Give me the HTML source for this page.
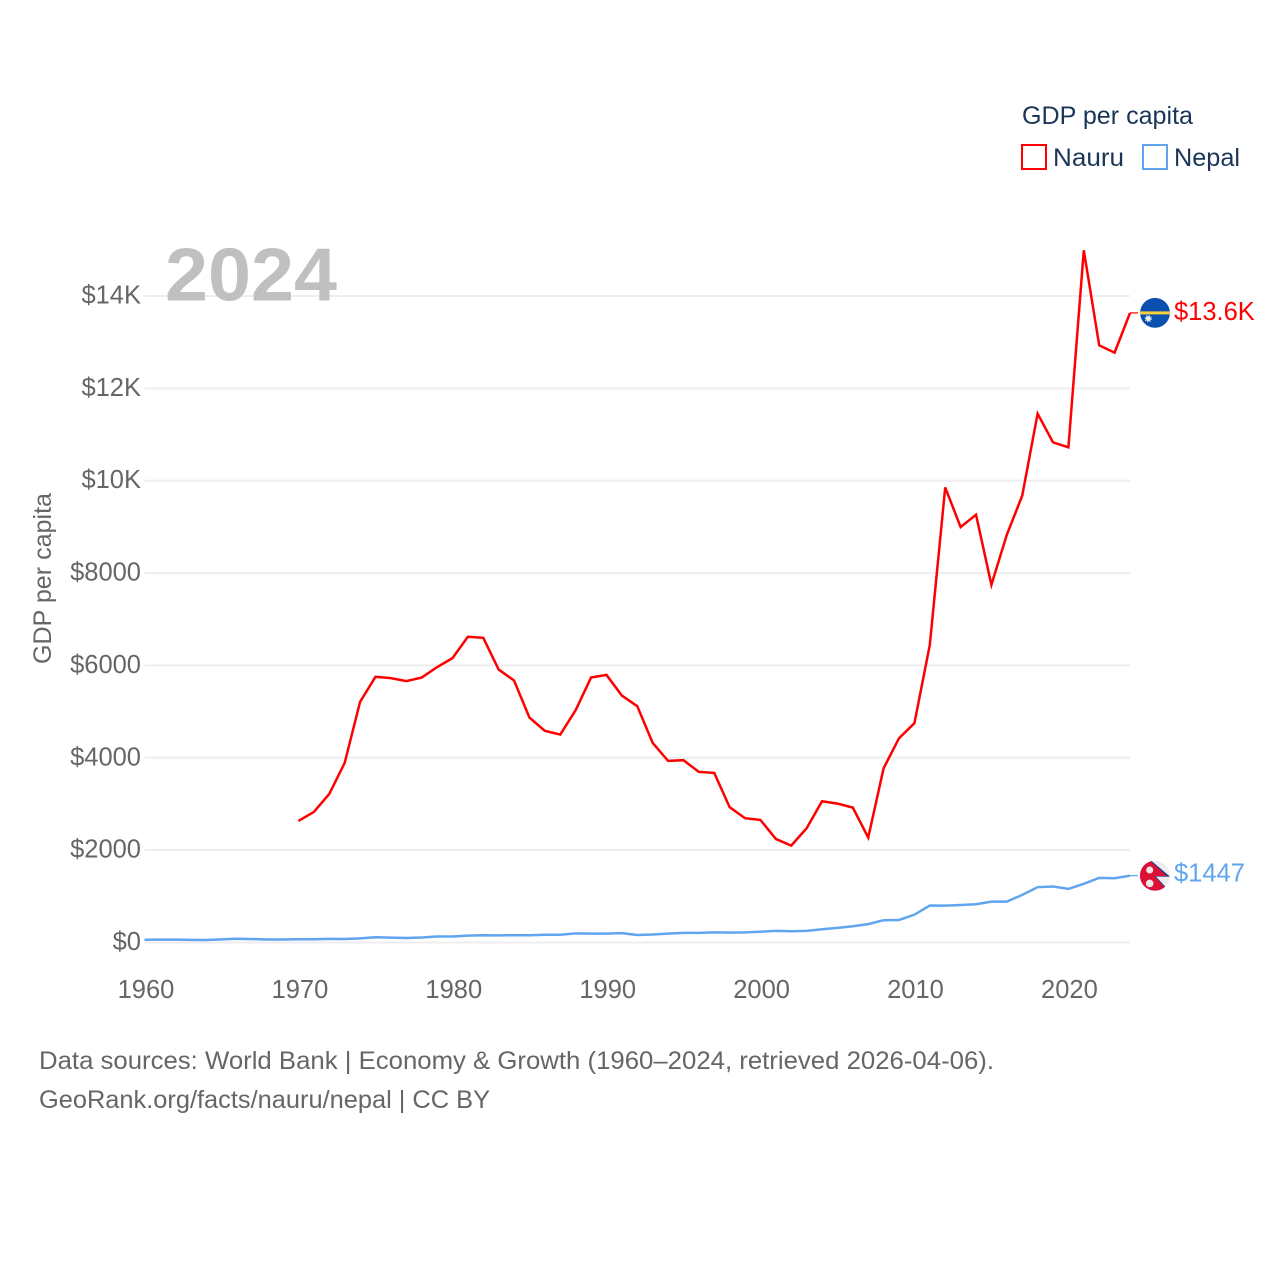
<!DOCTYPE html>
<html lang="en">
<head>
<meta charset="utf-8">
<title>GDP per capita: Nauru and Nepal</title>
<style>
html,body{margin:0;padding:0;background:#fff;width:1280px;height:1280px;overflow:hidden}
svg{display:block;font-family:"Liberation Sans",sans-serif}
</style>
</head>
<body>
<svg id="chart" width="1280" height="1280" viewBox="0 0 1280 1280" xmlns="http://www.w3.org/2000/svg">
  <defs>
    <clipPath id="flag-clip"><circle cx="0" cy="0" r="15"></circle></clipPath>
  </defs>
  <g id="grid"></g>
  <g id="y-ticks"></g>
  <g id="x-ticks"></g>
  <text transform="translate(51,578.5) rotate(-90)" text-anchor="middle" font-size="25" fill="#666" textLength="171" lengthAdjust="spacingAndGlyphs">GDP per capita</text>
  <text x="165" y="300.5" font-size="75" font-weight="700" fill="#c0c0c0" textLength="172" lengthAdjust="spacingAndGlyphs">2024</text>
  <g id="series"></g>
  <g id="flag-nauru" clip-path="url(#flag-clip)">
    <circle r="15" fill="#0b50ae"></circle>
    <rect x="-15" y="-1.5" width="30" height="3" fill="#fcd03c"></rect>
    <circle cx="-6.7" cy="5.7" r="2.6" fill="#e8eef8"></circle>
    <circle cx="-6.7" cy="5.7" r="3.2" fill="none" stroke="#e8eef8" stroke-width="1" stroke-dasharray="1 1.5"></circle>
  </g>
  <g id="flag-nepal" clip-path="url(#flag-clip)">
    <circle r="15" fill="#eeeeee"></circle>
    <polygon points="-5,-16 15,1 1,1 15,16 -16,16 -16,-16" fill="#0b3f9e"></polygon>
    <polygon points="-6,-16 12,0.3 0,0.6 13,15.5 -16,16 -16,-16" fill="#dc0f35"></polygon>
    <circle cx="-5.3" cy="-5.7" r="3.5" fill="#f0e6e6"></circle>
    <circle cx="-5.3" cy="7.7" r="3.8" fill="#f0e6e6"></circle>
  </g>
  <text id="label-nauru" x="1174" font-size="25.5" fill="#ff0000"></text>
  <text id="label-nepal" x="1174" font-size="25.5" fill="#60a5ee"></text>
  <g>
    <text x="1022" y="124" font-size="25" fill="#1a3557" textLength="171" lengthAdjust="spacingAndGlyphs">GDP per capita</text>
    <rect x="1022" y="145" width="24" height="24" fill="none" stroke="#ff0000" stroke-width="2"></rect>
    <text x="1053" y="166" font-size="25" fill="#1a3557" textLength="71" lengthAdjust="spacingAndGlyphs">Nauru</text>
    <rect x="1143" y="145" width="24" height="24" fill="none" stroke="#60a5ee" stroke-width="2"></rect>
    <text x="1174" y="166" font-size="25" fill="#1a3557" textLength="66" lengthAdjust="spacingAndGlyphs">Nepal</text>
  </g>
  <text x="39" y="1069" font-size="25" fill="#666" textLength="955" lengthAdjust="spacingAndGlyphs">Data sources: World Bank | Economy &amp; Growth (1960–2024, retrieved 2026-04-06).</text>
  <text x="39" y="1108" font-size="25" fill="#666" textLength="451" lengthAdjust="spacingAndGlyphs">GeoRank.org/facts/nauru/nepal | CC BY</text>
</svg>
<script>
const years = [1960,1961,1962,1963,1964,1965,1966,1967,1968,1969,1970,1971,1972,1973,1974,1975,1976,1977,1978,1979,1980,1981,1982,1983,1984,1985,1986,1987,1988,1989,1990,1991,1992,1993,1994,1995,1996,1997,1998,1999,2000,2001,2002,2003,2004,2005,2006,2007,2008,2009,2010,2011,2012,2013,2014,2015,2016,2017,2018,2019,2020,2021,2022,2023,2024];
const nauruValues = [null,null,null,null,null,null,null,null,null,null,2633,2828,3218,3890,5211,5753,5725,5660,5738,5963,6158,6620,6598,5911,5673,4871,4583,4503,5031,5738,5796,5348,5118,4323,3933,3948,3694,3673,2930,2691,2654,2243,2098,2474,3059,3008,2921,2271,3775,4424,4749,6446,9855,8996,9263,7746,8830,9675,11452,10830,10722,14990,12932,12774,13634];
const nepalValues = [60,62,63,57,55,68,80,74,65,64,70,70,79,75,90,114,105,97,108,130,130,150,158,153,158,158,168,168,198,193,193,203,163,173,193,208,208,218,213,218,233,253,243,253,288,318,353,398,483,488,603,800,798,813,828,886,884,1032,1198,1212,1161,1270,1400,1392,1447];
const yTickValues = [0,2000,4000,6000,8000,10000,12000,14000];
const yTickLabels = ["$0","$2000","$4000","$6000","$8000","$10K","$12K","$14K"];
const xTickYears = [1960,1970,1980,1990,2000,2010,2020];
const nauruEndLabel = "$13.6K";
const nepalEndLabel = "$1447";

const NS = 'http://www.w3.org/2000/svg';
const plotLeft = 144.5, plotRight = 1130, zeroY = 942.5, yMax = 14000, yMaxPx = 296;
function xScale(year) { return plotLeft + (year - 1960) * (plotRight - plotLeft) / 64; }
function xTickPos(year) { return 146 + (year - 1960) * 15.39; }
function yScale(value) { return zeroY - value * (zeroY - yMaxPx) / yMax; }
function make(tag, parent, attrs) {
  const el = document.createElementNS(NS, tag);
  for (const k in attrs) el.setAttribute(k, attrs[k]);
  parent.appendChild(el);
  return el;
}
const grid = document.getElementById('grid');
const yTicks = document.getElementById('y-ticks');
const xTicks = document.getElementById('x-ticks');
const series = document.getElementById('series');

yTickValues.forEach(function (v, i) {
  const line = make('line', grid, {x1: plotLeft, x2: plotRight, y1: yScale(v), y2: yScale(v), stroke: '#eeeeee', 'stroke-width': 2});
  
  
  const t = make('text', yTicks, {x: 141, y: yScale(v) + 7.5, 'text-anchor': 'end', 'font-size': 25.5, fill: '#666'});
  t.textContent = yTickLabels[i];
  
  
});
xTickYears.forEach(function (yr) {
  const t = make('text', xTicks, {x: xTickPos(yr), y: 998, 'text-anchor': 'middle', 'font-size': 25.5, fill: '#666'});
  t.textContent = String(yr);
  
  
});
function linePoints(values) {
  const pts = [];
  values.forEach(function (v, i) {
    if (v !== null) pts.push(xScale(years[i]).toFixed(2) + ',' + yScale(v).toFixed(2));
  });
  return pts.join(' ');
}
const nepalLine = make('polyline', series, {points: linePoints(nepalValues), fill: 'none', stroke: '#60a5ee', 'stroke-width': 2.5, 'stroke-linejoin': 'miter'});


const nauruLine = make('polyline', series, {points: linePoints(nauruValues), fill: 'none', stroke: '#ff0000', 'stroke-width': 2.5, 'stroke-linejoin': 'miter'});



function endMarks(values, color, flagId, labelId, text, labelOffset) {
  const last = values[values.length - 1];
  const y = yScale(last);
  const conn = make('line', series, {x1: plotRight, x2: 1138, y1: y, y2: y, stroke: color, 'stroke-width': 1.2});
  
  
  document.getElementById(flagId).setAttribute('transform', 'translate(1155,' + y + ')');
  const label = document.getElementById(labelId);
  label.setAttribute('y', y + labelOffset);
  label.textContent = text;
}
endMarks(nauruValues, '#ff0000', 'flag-nauru', 'label-nauru', nauruEndLabel, 7);
endMarks(nepalValues, '#60a5ee', 'flag-nepal', 'label-nepal', nepalEndLabel, 6);
</script>
</body>
</html>
